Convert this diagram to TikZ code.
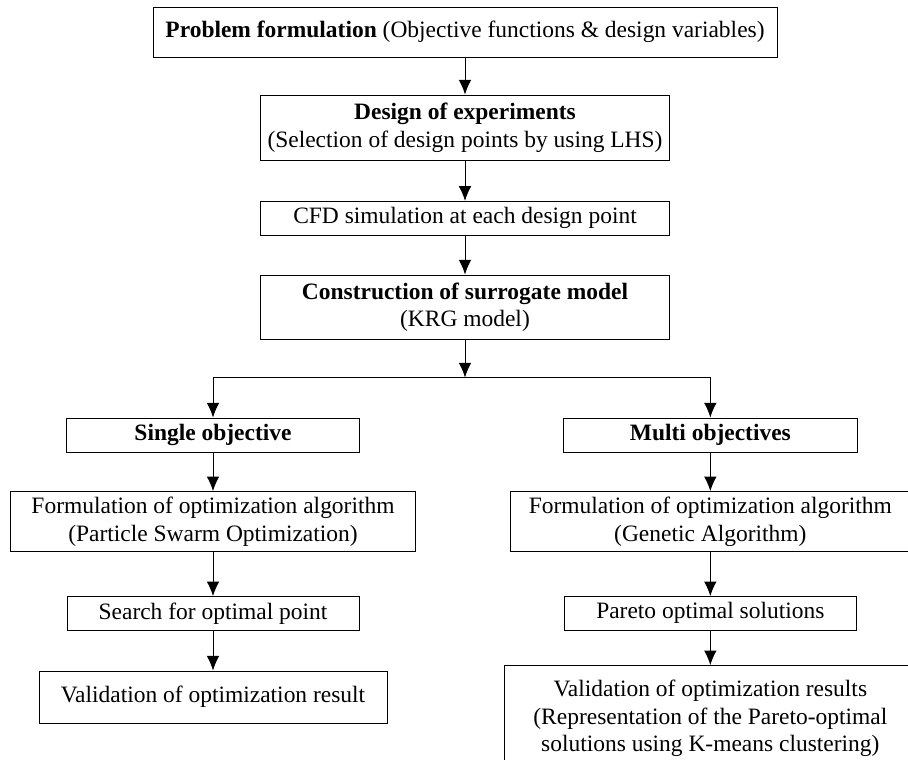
\documentclass[tikz,border=0pt]{standalone}
\usepackage{fontspec}
\setmainfont{Liberation Serif}
\usepackage{tikz}
\usetikzlibrary{arrows.meta,positioning}
\tikzstyle{int}=[draw, line width=0.75pt, align=center, inner sep=2pt, font=\fontsize{17.6}{20.6}\selectfont]
\tikzstyle{wide}=[int, minimum width=307pt]
\tikzstyle{half}=[int, minimum width=220pt, minimum height=25.5pt]

\begin{document}
\begin{tikzpicture}[node distance=29pt,>={Latex[length=11pt,width=9.5pt]},line width=0.75pt]
        \useasboundingbox (0,0) rectangle (681pt,-570pt);
        \node [int, minimum width=468pt, minimum height=37.5pt] (prob) at (348.75pt,-24pt) {\textbf{Problem formulation} (Objective functions \& design variables)};
        \node [wide, minimum height=49pt] (doe) [below=27.75pt of prob] {\textbf{Design of experiments}\\(Selection of design points by using LHS)};
        \node [wide, minimum height=25.5pt] (cfd) [below=30pt of doe] {CFD simulation at each design point};
        \node [wide, minimum height=48pt] (krg) [below=of cfd] {\textbf{Construction of surrogate model}\\(KRG model)};
        \node (split) [below=28.5pt of krg, coordinate] {};

        % single objective branch
        \node [half] (single) [below=58.5pt of krg, xshift=-189pt] {\textbf{Single objective}};
        \node [int, minimum width=304pt, minimum height=45pt] (psoalg) [below=of single] {Formulation of optimization algorithm\\(Particle Swarm Optimization)};
        \node [int, minimum width=219pt, minimum height=25pt] (search) [below=33pt of psoalg] {Search for optimal point};
        \node [int, minimum width=261pt, minimum height=39pt] (valsingle) [below=30pt of search] {Validation of optimization result};

        % multi objective branch
        \node [half] (multi) [below=58.5pt of krg, xshift=184pt] {\textbf{Multi objectives}};
        \node [int, minimum width=300pt, minimum height=45pt] (gaalg) [below=of multi] {Formulation of optimization algorithm\\(Genetic Algorithm)};
        \node [int, minimum width=219pt, minimum height=25pt] (pareto) [below=33pt of gaalg] {Pareto optimal solutions};
        \node [int, minimum width=309pt, minimum height=79pt] (valmulti) [below=26pt of pareto] {Validation of optimization results\\(Representation of the Pareto-optimal\\solutions using K-means clustering)};

        \path[->] (prob) edge (doe);
        \path[->] (doe) edge (cfd);
        \path[->] (cfd) edge (krg);
        \path[->] (krg) edge (split);
        \draw[->] (split) -| (single);
        \draw[->] (split) -| (multi);
        \path[->] (single) edge (psoalg);
        \path[->] (psoalg) edge (search);
        \path[->] (search) edge (valsingle);
        \path[->] (multi) edge (gaalg);
        \path[->] (gaalg) edge (pareto);
        \path[->] (pareto) edge (valmulti);
\end{tikzpicture}
\end{document}
